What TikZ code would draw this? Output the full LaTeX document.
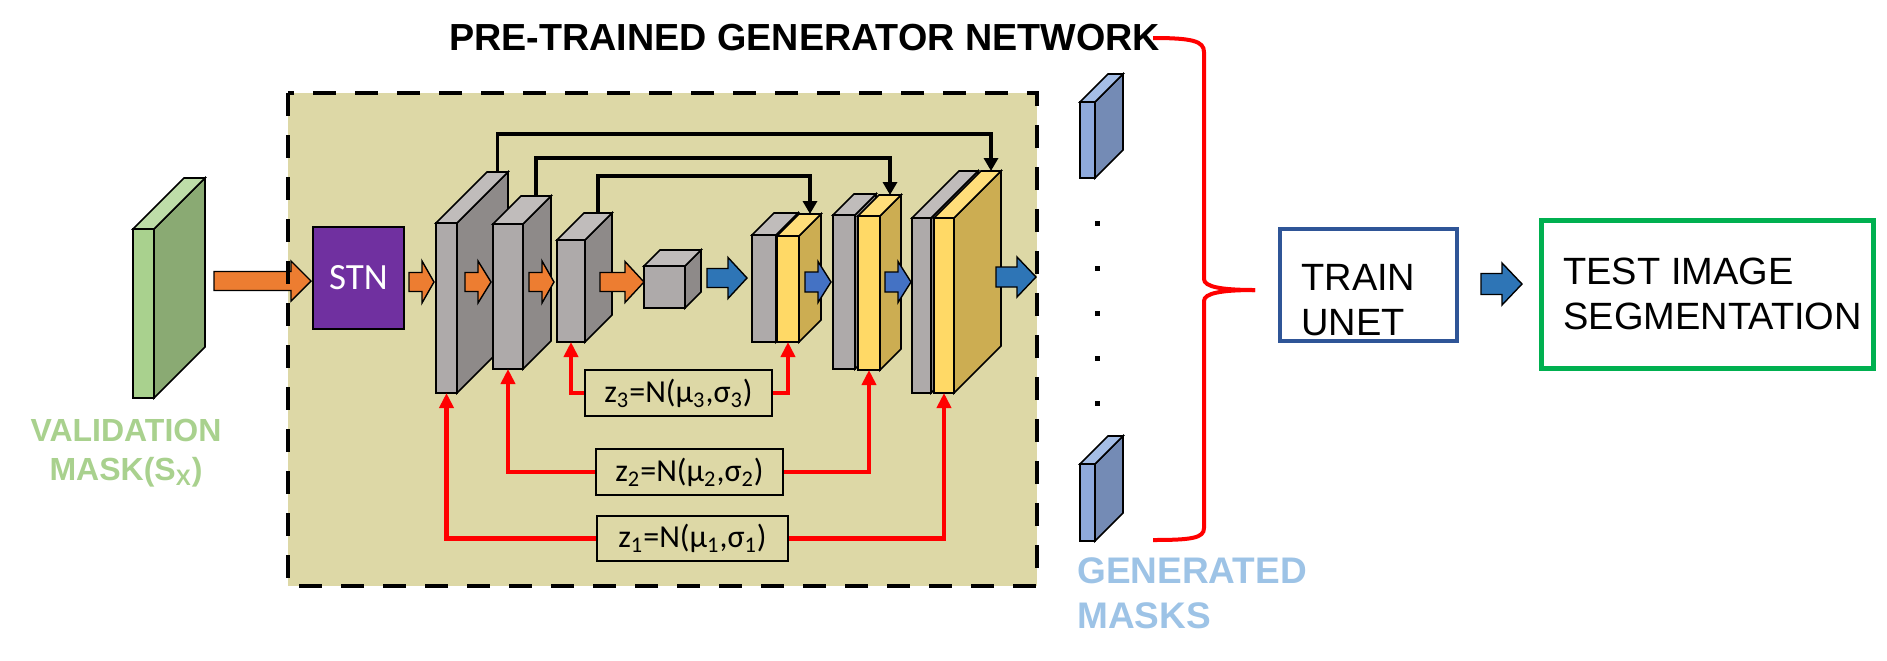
\documentclass[tikz,border=0pt]{standalone}
\usepackage{fontspec}
\setmainfont{Liberation Sans}
\newfontfamily\calib{Carlito}
\usetikzlibrary{arrows.meta}
\definecolor{khaki}{HTML}{DDD8A6}
\definecolor{gfront}{HTML}{AEAAAA}
\definecolor{gtop}{HTML}{C0BCBB}
\definecolor{gside}{HTML}{8E8A89}
\definecolor{yfront}{HTML}{FFD966}
\definecolor{ytop}{HTML}{FFDE7A}
\definecolor{yside}{HTML}{CCAD52}
\definecolor{mgfront}{HTML}{A9D18E}
\definecolor{mgtop}{HTML}{BEDDA8}
\definecolor{mgside}{HTML}{8AAA73}
\definecolor{mbfront}{HTML}{8FAADC}
\definecolor{mbtop}{HTML}{A5BEE6}
\definecolor{mbside}{HTML}{748BB5}
\definecolor{orng}{HTML}{ED7D31}
\definecolor{blu}{HTML}{2E75B6}
\definecolor{blu2}{HTML}{4472C4}
\definecolor{stnpurple}{HTML}{7030A0}
\definecolor{unetblue}{HTML}{2F5597}
\definecolor{testgreen}{HTML}{00B050}
\definecolor{vallabel}{HTML}{A9D18E}
\definecolor{genlabel}{HTML}{9DC3E6}
\definecolor{redline}{HTML}{FF0000}
\tikzset{
  blk/.style={draw=black, line width=0.8pt, line join=miter},
  arrline/.style={draw=black, line width=0.7pt, line join=miter},
  skipline/.style={draw=black, line width=1.7pt, -{Triangle[width=7pt,length=6.5pt]}},
  zline/.style={draw=redline, line width=2.1pt, -{Triangle[width=7pt,length=7.5pt]}},
  zbox/.style={draw=black, line width=0.85pt, inner sep=0pt, font=\calib\fontsize{16pt}{18pt}\selectfont},
  lbl/.style={anchor=base west, inner sep=0pt},
}
\newcommand\mycuboid[9]{%
  \filldraw[blk, fill=#9] (#4,#3) -- ({#4+#6},{#3-#6}) -- ({#4+#6},{#5-#6}) -- (#4,#5) -- cycle;
  \filldraw[blk, fill=#8] (#2,#3) -- ({#2+#6},{#3-#6}) -- ({#4+#6},{#3-#6}) -- (#4,#3) -- cycle;
  \filldraw[blk, fill=#7] (#2,#3) rectangle (#4,#5);
  \coordinate (#1-t) at ({(#2+#4)/2+#6},{#3-#6});
  \coordinate (#1-b) at ({(#2+#4)/2},#5);
}
% x1, tip x, y centre, shaft half, head half, head base x, colour
\newcommand\blkarrow[7]{%
  \filldraw[arrline, fill=#7] (#1,{#3-#4}) -- (#6,{#3-#4}) -- (#6,{#3-#5}) -- (#2,#3)
    -- (#6,{#3+#5}) -- (#6,{#3+#4}) -- (#1,{#3+#4}) -- cycle;
}
\begin{document}
\begin{tikzpicture}[x=0.5pt,y=-0.5pt]
\useasboundingbox (0,0) rectangle (1887,660);

% title
\node[lbl, font=\bfseries\fontsize{18.85pt}{22pt}\selectfont] (title) at (449,50) {PRE-TRAINED GENERATOR NETWORK};

% generator background
\fill[khaki] (288,93) rectangle (1037,586);

% validation mask
\mycuboid{val}{133}{229}{154}{398}{51}{mgfront}{mgtop}{mgside}
\node[anchor=base, inner sep=0pt, text=vallabel, font=\bfseries\fontsize{16pt}{18pt}\selectfont] (val1) at (126,441) {VALIDATION};
\node[anchor=base, inner sep=0pt, text=vallabel, font=\bfseries\fontsize{16pt}{18pt}\selectfont] (val2) at (126,480) {MASK(S\textsubscript{X})};

% STN
\node[draw=black, line width=0.8pt, fill=stnpurple, minimum width=45.5pt, minimum height=51pt, inner sep=0pt,
      text=white, font=\calib\fontsize{18.5pt}{20pt}\selectfont] (stn) at (358.5,278) {STN};

% encoder
\mycuboid{E1}{436}{223}{457}{393}{51}{gfront}{gtop}{gside}
\mycuboid{E2}{493}{224}{523}{369}{28}{gfront}{gtop}{gside}
\mycuboid{E3}{557}{240}{585}{342}{27}{gfront}{gtop}{gside}
\mycuboid{B}{644}{266}{685}{308}{16}{gfront}{gtop}{gside}

% decoder
\mycuboid{D3g}{752}{235}{776}{342}{22}{gfront}{gtop}{gside}
\mycuboid{D3y}{777}{236}{799}{342}{22}{yfront}{ytop}{yside}
\mycuboid{D2g}{833}{215}{855}{369}{21}{gfront}{gtop}{gside}
\mycuboid{D2y}{858}{216}{880}{370}{21}{yfront}{ytop}{yside}
\mycuboid{D1g}{912}{218}{931}{393}{47}{gfront}{gtop}{gside}
\mycuboid{D1y}{934}{218}{954}{393}{47}{yfront}{ytop}{yside}

% block arrows
\blkarrow{214}{311}{281}{9.5}{20}{291}{orng}
\blkarrow{409}{434}{282}{9.5}{21}{422}{orng}
\blkarrow{465}{491}{282}{9.5}{21}{478}{orng}
\blkarrow{529}{554}{282}{9.5}{21}{542}{orng}
\blkarrow{600}{644}{282}{9.5}{20.5}{625}{orng}
\blkarrow{707}{747}{278}{9.5}{20.5}{728}{blu}
\blkarrow{805}{831}{282}{10}{20.5}{818}{blu2}
\blkarrow{885}{911}{282}{10}{20.5}{898}{blu2}
\blkarrow{996}{1036}{277}{10}{20}{1017}{blu}

% dashed frame
\draw[line width=2.4pt, dash pattern=on 11.5pt off 9.5pt] (288,93) rectangle (1037,586);

% skip connections
\coordinate (lane1) at (0,134);
\coordinate (lane2) at (0,158);
\coordinate (lane3) at (0,176);
\draw[skipline] (E1-t) -- (E1-t |- lane1) -| (D1y-t);
\draw[skipline] (E2-t) -- (E2-t |- lane2) -| (D2y-t);
\draw[skipline] (E3-t) -- (E3-t |- lane3) -| (D3y-t);

% noise boxes
\node[zbox, minimum width=93.5pt, minimum height=23pt] (z3) at (678.5,393) {z\textsubscript{3}=N(μ\textsubscript{3},σ\textsubscript{3})};
\node[zbox, minimum width=93.5pt, minimum height=23pt] (z2) at (689.5,472) {z\textsubscript{2}=N(μ\textsubscript{2},σ\textsubscript{2})};
\node[zbox, minimum width=95.5pt, minimum height=22.5pt] (z1) at (692.5,538.5) {z\textsubscript{1}=N(μ\textsubscript{1},σ\textsubscript{1})};

\draw[zline] (z3.west) -| (E3-b);
\draw[zline] (z3.east) -| (D3y-b);
\draw[zline] (z2.west) -| (E2-b);
\draw[zline] (z2.east) -| (D2y-b);
\draw[zline] (z1.west) -| (E1-b);
\draw[zline] (z1.east) -| (D1y-b);

% generated masks
\mycuboid{G1}{1080}{102}{1095}{178}{28}{mbfront}{mbtop}{mbside}
\mycuboid{G2}{1080}{464}{1095}{541}{28}{mbfront}{mbtop}{mbside}
\foreach \yy in {223,268,313,358,403} \fill (1094.5,\yy-2.5) rectangle (1099.5,\yy+2.5);
\node[lbl, text=genlabel, font=\bfseries\fontsize{18.5pt}{22pt}\selectfont] (gen1) at (1077,583) {GENERATED};
\node[lbl, text=genlabel, font=\bfseries\fontsize{18.5pt}{22pt}\selectfont] (gen2) at (1077,628) {MASKS};

% brace
\draw[redline, line width=2pt] (1153,38) .. controls (1192,38) and (1204,41) .. (1204,52)
  -- (1204,279) .. controls (1204,287) and (1222,290) .. (1255,290);
\draw[redline, line width=2pt] (1255,290) .. controls (1222,290) and (1204,293) .. (1204,301)
  -- (1204,528) .. controls (1204,538) and (1192,540) .. (1153,540);

% train unet
\node[draw=unetblue, line width=2pt, minimum width=88.5pt, minimum height=56pt, inner sep=0pt] (train) at (1368.5,285) {};
\node[lbl, font=\fontsize{19pt}{22pt}\selectfont] (train1) at (1301,290) {TRAIN};
\node[lbl, font=\fontsize{19pt}{22pt}\selectfont] (train2) at (1301,335) {UNET};

\blkarrow{1481}{1522}{284}{10.5}{21}{1502}{blu}

% test segmentation
\node[draw=testgreen, line width=2.5pt, minimum width=166pt, minimum height=74pt, inner sep=0pt] (test) at (1707.5,294.5) {};
\node[lbl, font=\fontsize{19pt}{22pt}\selectfont] (test1) at (1563,284) {TEST IMAGE};
\node[lbl, font=\fontsize{19pt}{22pt}\selectfont] (test2) at (1563,329) {SEGMENTATION};
\end{tikzpicture}
\end{document}
